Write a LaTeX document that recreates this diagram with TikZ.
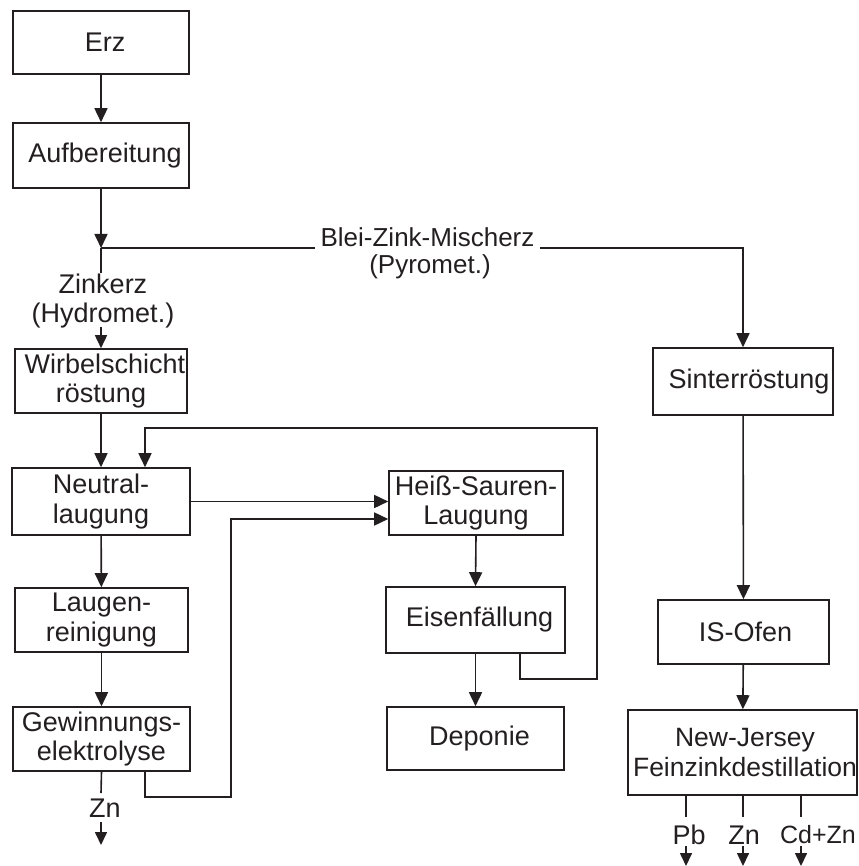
\documentclass[tikz,border=0pt]{standalone}
\usepackage{fontspec}
\setmainfont{Liberation Sans}
\usetikzlibrary{arrows.meta}
\definecolor{ink}{HTML}{231F20}
\tikzset{
  txt/.style={font=\fontsize{27}{29.5}\selectfont, text=ink, align=center, inner sep=0pt},
  outtxt/.style={txt, font=\fontsize{25}{29}\selectfont},
  box/.style={txt, draw=ink, line width=1.6pt, rectangle},
  conn/.style={draw=ink, line width=1.6pt},
  arr/.style={conn, -{Triangle[length=14pt,width=13pt]}},
  sarr/.style={conn, -{Triangle[length=13pt,width=12pt]}},
}
\begin{document}
\begin{tikzpicture}[x=1pt,y=-1pt]
\useasboundingbox (0,0) rectangle (858,866);
% boxes
\node[box, minimum width=176pt, minimum height=63pt] (erz) at (101,42.5) {\hspace*{8pt}Erz};
\node[box, minimum width=176pt, minimum height=65pt] (auf) at (101,155.5) {\hspace*{8pt}Aufbereitung};
\node[box, minimum width=172pt, minimum height=64pt] (wir) at (101,381) {\hspace*{8pt}Wirbelschicht\\röstung};
\node[box, minimum width=178pt, minimum height=67pt] (neu) at (101,501.5) {Neutral-\\laugung};
\node[box, minimum width=173pt, minimum height=64pt] (lau) at (101.5,620) {Laugen-\\reinigung};
\node[box, minimum width=177pt, minimum height=64pt] (gew) at (101.5,739) {Gewinnungs-\\elektrolyse};
\node[box, minimum width=174pt, minimum height=64pt] (hei) at (476,503) {Heiß-Sauren-\\Laugung};
\node[box, minimum width=179pt, minimum height=66pt] (eis) at (475.5,620) {\hspace*{8pt}Eisenfällung};
\node[box, minimum width=177pt, minimum height=63pt] (dep) at (475.5,738.5) {\hspace*{8pt}Deponie};
\node[box, minimum width=180pt, minimum height=67pt] (sin) at (743,381.5) {\hspace*{12pt}Sinterröstung};
\node[box, minimum width=171pt, minimum height=64pt] (iso) at (743.5,632) {\hspace*{4pt}IS-Ofen};
\node[box, minimum width=229pt, minimum height=85pt] (nj) at (742.5,752.5) {};
\node[txt, font=\fontsize{26.5}{29.5}\selectfont] (njt) at (745,752.5) {New-Jersey\\Feinzinkdestillation};
% labels
\node[txt] (zink) at (103,301) {Zinkerz\\(Hydromet.)};
\node[txt, inner xsep=5pt, font=\fontsize{26}{29}\selectfont] (bz) at (427.5,237) {Blei-Zink-Mischerz};
\node[txt, font=\fontsize{26}{29}\selectfont] (py) at (430,267) {(Pyromet.)};
\node[txt] (zn1) at (105,808) {Zn};
\node[txt] (pb) at (689,835) {Pb};
\node[txt] (zn2) at (744,835) {Zn};
\node[outtxt] (cdzn) at (818,835) {Cd+Zn};
% coordinates
\coordinate (J) at (101,248);
\coordinate (Jd) at (101,273);
\coordinate (Zs) at (101,327);
\coordinate (Sx) at (743,248);
\coordinate (r1) at (520,679);
\coordinate (r2) at (597,679);
\coordinate (r3) at (597,428);
\coordinate (r4) at (145,428);
\coordinate (g1) at (145,797);
\coordinate (g2) at (231,797);
\coordinate (g3) at (231,519);
\coordinate (za) at (101,793);
\coordinate (zb) at (101,822);
\coordinate (zc) at (101,845);
\foreach \k/\x in {1/686, 2/743, 3/801}{
  \coordinate (oa\k) at (\x,817);
  \coordinate (ob\k) at (\x,846);
  \coordinate (oc\k) at (\x,866);
}
% connectors
\draw[arr] (erz) -- (auf);
\draw[arr] (auf) -- (J);
\draw[conn] (J) -- (Jd);
\draw[sarr] (Zs) -- (wir.north);
\draw[conn] (J) -- (J -| bz.west);
\draw[arr] (J -| bz.east) -- (Sx) -- (sin.north);
\draw[arr] (wir) -- (neu);
\draw[arr] (eis.south -| r1) -- (r1) -- (r2) -- (r3) -- (r4) -- (neu.north -| r4);
\draw[arr] (neu.east) -- (neu.east -| hei.west);
\draw[arr] (gew.south -| g1) -- (g1) -- (g2) -- (g3) -- (g3 -| hei.west);
\draw[arr] (neu) -- (lau);
\draw[arr] (lau) -- (gew);
\draw[conn] (gew.south) -- (za);
\draw[sarr] (zb) -- (zc);
\draw[arr] (hei.south) -- (eis.north);
\draw[arr] (eis.south) -- (dep.north);
\draw[arr] (sin) -- (iso);
\draw[arr] (iso) -- (nj);
\foreach \k in {1,2,3}{
  \draw[conn] (nj.south -| oa\k) -- (oa\k);
  \draw[sarr] (ob\k) -- (oc\k);
}
\end{tikzpicture}
\end{document}
